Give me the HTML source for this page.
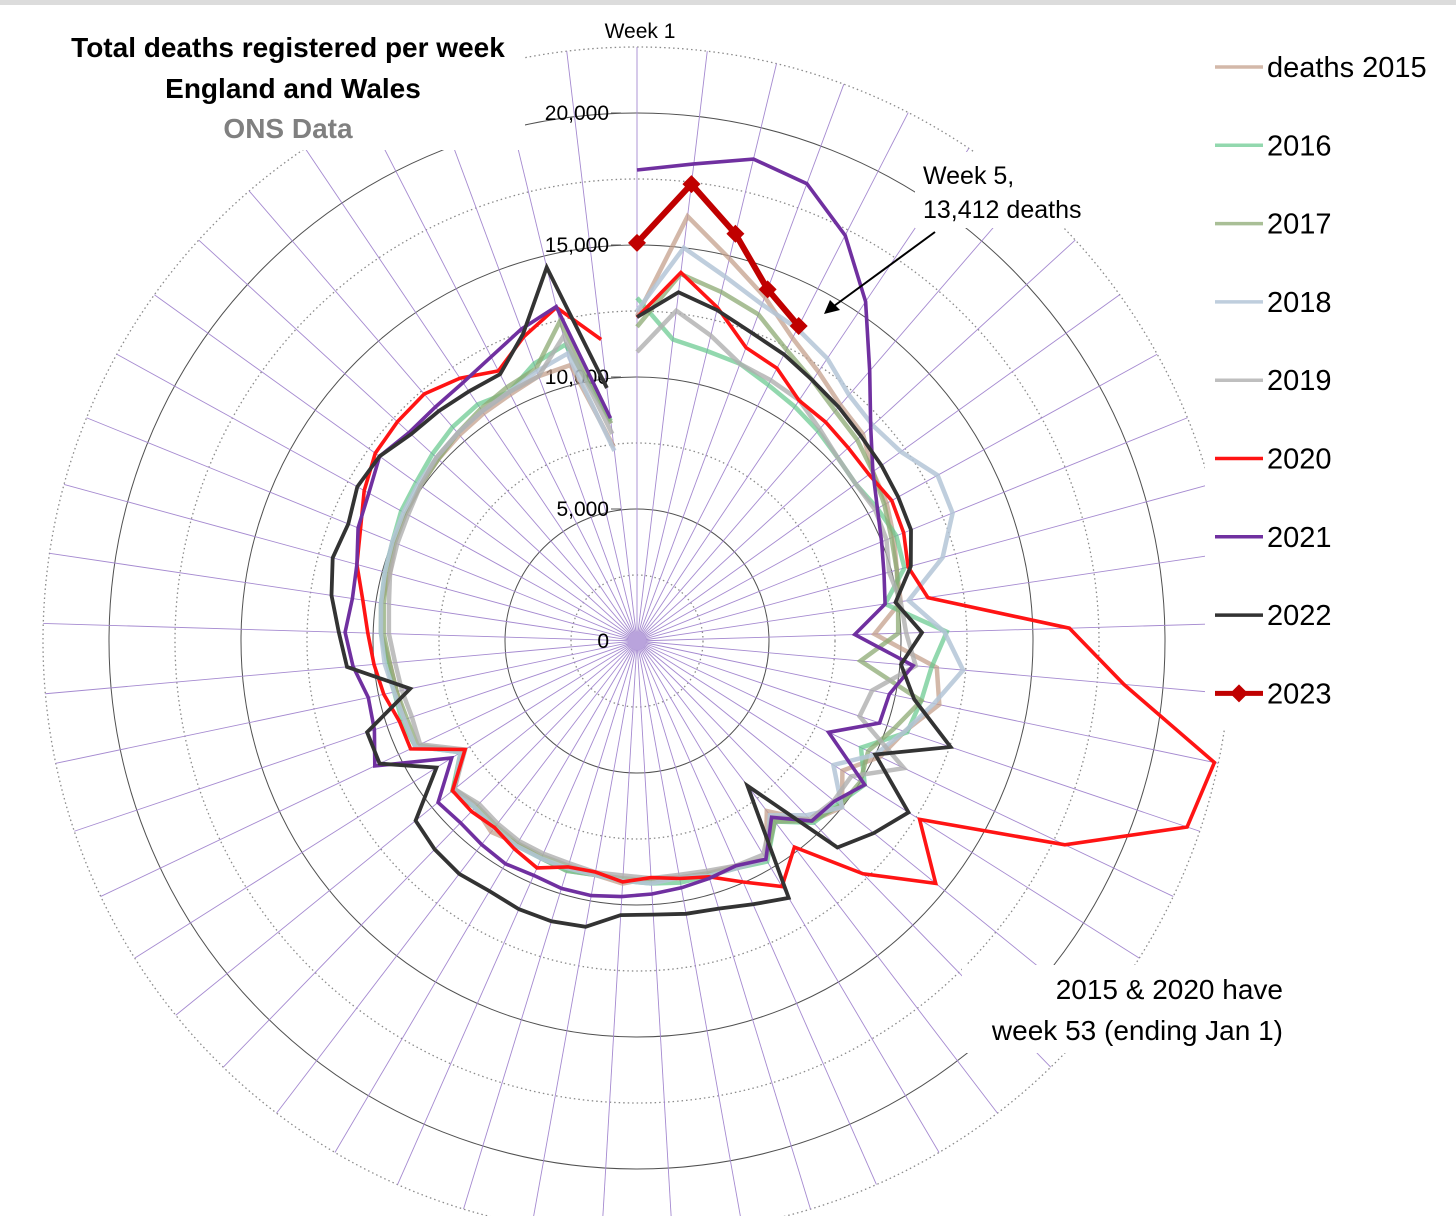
<!DOCTYPE html>
<html><head><meta charset="utf-8"><style>
html,body{margin:0;padding:0;background:#fff;}
svg{display:block;font-family:"Liberation Sans",Calibri,sans-serif;}
</style></head><body>
<svg id="chart" width="1456" height="1216" viewBox="0 0 1456 1216" xmlns="http://www.w3.org/2000/svg">
<rect x="0" y="0" width="1456" height="1216" fill="#fff"/>
<rect x="0" y="0" width="1456" height="5" fill="#dcdcdc"/>
<g id="grid"></g>
<g id="boxes">
 <rect x="55" y="25" width="470" height="125" fill="#fff"/>
 <rect x="915" y="152" width="185" height="76" fill="#fff"/>
 <rect x="962" y="965" width="330" height="88" fill="#fff"/>
 <rect x="1205" y="30" width="251" height="700" fill="#fff"/>
</g>
<g id="axis-labels"></g>
<g id="series"></g>
<text x="640" y="38" font-size="21" text-anchor="middle" fill="#000">Week 1</text>
<g font-weight="bold" font-size="28" text-anchor="middle">
 <text x="288" y="57" fill="#000">Total deaths registered per week</text>
 <text x="293" y="98" fill="#000">England and Wales</text>
 <text x="288" y="138" fill="#808080">ONS Data</text>
</g>
<g font-size="25" fill="#000">
 <text x="923" y="184">Week 5,</text>
 <text x="923" y="218">13,412 deaths</text>
 <line x1="935" y1="232" x2="834" y2="306" stroke="#000" stroke-width="2"/>
 <polygon points="824,314 830,300 840,310" fill="#000"/>
</g>
<g font-size="28" fill="#000" text-anchor="end">
 <text x="1283" y="999">2015 &amp; 2020 have</text>
 <text x="1283" y="1040">week 53 (ending Jan 1)</text>
</g>
<g id="legend"></g>
</svg>
<script>
const weeks = Array.from({length:53},(_,i)=>i+1);
const yearNames = ["deaths 2015","2016","2017","2018","2019","2020","2021","2022","2023"];
const d2015 = [12300,16200,14900,13900,12900,12300,11800,11600,11000,10800,10500,10200,10100,9000,11400,11700,10700,10200,9200,10000,9500,8100,9600,9300,9200,9100,9000,9200,9000,9100,9000,8900,9100,8800,9000,7800,9300,9300,9300,9400,9700,9800,9700,9900,10000,10100,10200,10300,10400,10500,10700,10750,7400];
const d2016 = [13000,11500,11300,11200,10900,10700,10500,10300,10200,10400,10600,10500,9500,11740,11200,11000,10800,9400,10200,9800,9600,8600,9700,9400,9300,9300,9200,9100,9000,9100,9000,9000,8900,8800,9000,7900,9300,9400,9400,9500,9700,9800,9900,10000,10200,10300,10500,10700,10800,10600,11200,11550,8400,null];
const d2017 = [11900,14000,13600,13200,12400,11900,11500,11300,11000,10700,10400,10200,10000,9900,8500,11000,10300,9700,10000,9900,9500,8600,9600,9400,9200,9100,9100,9000,9000,8900,8900,8900,8800,8700,8900,7800,9200,9200,9300,9400,9600,9700,9800,9900,10000,10100,10200,10400,10600,10800,11000,12450,8300];
const d2018 = [12500,15000,14200,13600,13300,12900,12300,12100,12300,13000,12900,12000,10400,11650,12400,11500,10700,10000,8800,10000,9200,8300,9600,9400,9300,9100,9200,9100,9000,9000,9000,9000,8900,8800,8900,7900,9300,9300,9400,9600,9700,9800,9900,10000,10100,10200,10300,10400,10500,10600,10900,11200,7250];
const d2019 = [10950,12600,11900,11200,11100,11000,10600,10300,10200,10300,10200,9900,10100,10200,10600,9100,8900,11200,9600,9600,9400,8400,9400,9300,9100,9000,9000,8900,8900,8800,8800,8800,8700,8600,8900,7700,9100,9000,9100,9200,9400,9500,9700,9800,9900,10100,10300,10400,10500,10600,10700,11870,7900];
const d2020 = [12254,14058,12990,11856,11612,10986,10944,10841,10816,11019,10900,10645,11141,16387,18516,22351,21997,17953,12657,14573,12288,9824,10800,9976,9339,9140,8979,9140,8891,8946,9392,9140,8891,9000,9000,7700,9500,9500,9800,10000,10200,10500,11000,11300,11800,12200,12300,12350,12000,11500,12300,13000,11500];
const d2021 = [17840,18200,18780,18480,17270,15500,13500,12000,11000,10400,10000,9700,9500,8250,10500,9770,9700,8040,10200,9630,9500,8400,9600,9300,9400,9500,9600,9700,9800,9800,9700,9800,9700,9600,9700,8300,11000,10500,10400,10800,11060,10900,11000,11400,11600,12000,11700,11700,11800,12100,12600,13030,8500];
const d2022 = [12270,13300,12900,12460,12200,11900,11700,11500,11400,11300,11200,10750,9900,10800,10040,10730,12540,10000,12160,11550,10900,6900,11300,10900,10600,10500,10380,10400,11000,11100,11100,11000,11100,11000,10800,8980,10800,10790,8780,11030,11300,11700,11950,11800,12100,12000,11600,11500,11400,11360,12400,14560,9650];
const d2023 = [15080,17430,15870,14210,13412];
const seriesData = [d2015,d2016,d2017,d2018,d2019,d2020,d2021,d2022,d2023];
const ringValues = [2500,5000,7500,10000,12500,15000,17500,20000,22500];
const tickLabels = ["0","5,000","10,000","15,000","20,000"];
const tickValues = [0,5000,10000,15000,20000];

const colors = ["rgba(196,160,140,0.75)","rgba(100,200,140,0.7)","rgba(140,170,115,0.75)","rgba(180,198,215,0.85)","rgba(175,175,175,0.8)","#ff1414","#7030a0","#333333","#c00000"];
const widths = [4.5,4.5,4.5,4.5,4.5,3.6,3.6,3.8,6];
const NS="http://www.w3.org/2000/svg";
const cx=637, cy=641, k=528/20000, N=53;
function rScale(v){return v*k;}
function ang(i){return i*2*Math.PI/N;}
function px(i,v){return cx+rScale(v)*Math.sin(ang(i));}
function py(i,v){return cy-rScale(v)*Math.cos(ang(i));}
function mk(tag,attrs,parent){const e=document.createElementNS(NS,tag);for(const a in attrs)e.setAttribute(a,attrs[a]);parent.appendChild(e);return e;}

const grid=document.getElementById('grid');
const maxV=ringValues[ringValues.length-1];
ringValues.forEach(v=>{
  const solid = v%5000===0;
  const c=mk('circle',{cx:cx,cy:cy,r:rScale(v),fill:'none',stroke:solid?'#505050':'#8a8a8a','stroke-width':solid?1:1.3,'stroke-dasharray':solid?'none':'1.5 3'},grid);
  
  
});
weeks.forEach((w,i)=>{
  const l=mk('line',{x1:cx,y1:cy,x2:px(i,maxV),y2:py(i,maxV),stroke:'#a58ad0','stroke-width':0.9},grid);
  
  
});
mk('circle',{cx:cx,cy:cy,r:9,fill:'#b9a3dc'},grid);

const al=document.getElementById('axis-labels');
tickValues.forEach((v,j)=>{
  const y=cy-rScale(v);
  const t=mk('text',{x:609,y:y+7,'font-size':21,'text-anchor':'end',fill:'#000'},al);
  t.textContent=tickLabels[j];
  
  
  if(v>0){mk('line',{x1:611,y1:y,x2:621,y2:y,stroke:'#555','stroke-width':1},al);}
});

const sg=document.getElementById('series');
seriesData.forEach((arr,s)=>{
  const g=mk('g',{},sg);
  
  
  let seg=[];
  const segs=[];
  arr.forEach((v,i)=>{ if(v===null||v===undefined){ if(seg.length)segs.push(seg); seg=[]; } else seg.push(px(i,v).toFixed(1)+','+py(i,v).toFixed(1)); });
  if(seg.length)segs.push(seg);
  segs.forEach(sp=>{
    const p=mk('polyline',{points:sp.join(' '),fill:'none',stroke:colors[s],'stroke-width':widths[s],'stroke-linejoin':'miter'},g);
    
    
  });
  if(s===8){
    arr.forEach((v,i)=>{
      const x=px(i,v),y=py(i,v);
      const m=mk('polygon',{points:`${x},${y-9} ${x+9},${y} ${x},${y+9} ${x-9},${y}`,fill:colors[s]},g);
      
      
    });
  }
});

const lg=document.getElementById('legend');
yearNames.forEach((n,s)=>{
  const y=67+s*78.3;
  const g=mk('g',{},lg);
  
  
  mk('line',{x1:1215,y1:y,x2:1263,y2:y,stroke:colors[s],'stroke-width':s===8?5:3.5},g);
  if(s===8)mk('polygon',{points:`1239,${y-9} 1248,${y} 1239,${y+9} 1230,${y}`,fill:colors[s]},g);
  const t=mk('text',{x:1267,y:y+10,'font-size':29,fill:'#000'},g);
  t.textContent=n;
});
</script>
</body></html>
